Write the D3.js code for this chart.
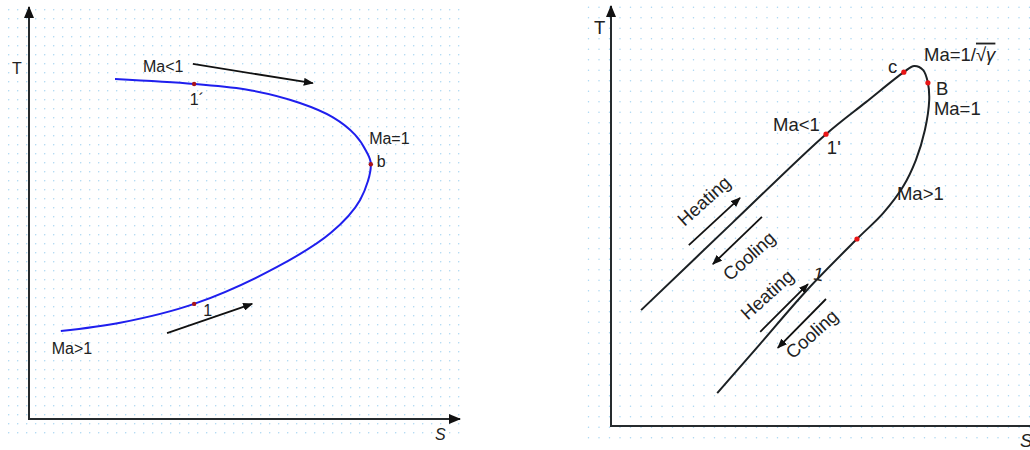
<!DOCTYPE html>
<meta charset="utf-8">
<style>
body { margin: 0; background: #fff; }
svg { display: block; font-family: "Liberation Sans", Arial, sans-serif; }
.axis { stroke: #262b2e; stroke-width: 2; fill: none; }
.grid circle { fill: #a9d6f2; }
</style>
<svg width="1030" height="450"></svg>
<script src="https://cdn.jsdelivr.net/npm/d3@7"></script>
<script>

// ---- Fanno line (left) : entropy s, temperature T in arbitrary units
var fannoS = [0.74, 2.12, 3.84, 5.77, 7.02, 7.70, 7.95, 7.84, 7.58, 7.07, 6.30, 5.14, 3.84, 2.00];
var fannoT = [2.14, 2.34, 2.80, 3.70, 4.53, 5.33, 6.20, 6.52, 6.92, 7.34, 7.69, 8.00, 8.15, 8.27];
var fannoPts = [["1", 3.84, 2.80], ["b", 7.95, 6.20], ["1´", 3.84, 8.15]];

// ---- Rayleigh line (right)
var raylS = [0.70, 2.84, 5.00, 5.93, 6.81, 7.05, 7.26, 7.37, 7.40, 7.30, 7.09, 6.79, 6.33, 5.72, 4.56, 3.47, 2.47];
var raylT = [2.82, 4.96, 7.10, 7.88, 8.61, 8.76, 8.66, 8.35, 7.93, 7.20, 6.47, 5.82, 5.18, 4.55, 3.31, 2.00, 0.80];
var raylPts = [["1'", 5.00, 7.10], ["c", 6.81, 8.61], ["B", 7.37, 8.35], ["1", 5.72, 4.55]];

// labels: text, s, T (baseline start)
var fannoLabels = [["Ma<1", 2.65, 8.45], ["1´", 3.74, 7.64], ["Ma=1", 7.91, 6.69],
                   ["b", 8.09, 6.13], ["1", 4.05, 2.51], ["Ma>1", 0.53, 1.58]];
var raylLabels = [["Ma<1", 3.77, 7.17], ["1'", 5.02, 6.61], ["c", 6.44, 8.59], ["B", 7.56, 8.05],
                  ["Ma=1", 7.51, 7.56], ["Ma>1", 6.65, 5.50]];

// direction arrows: s1, T1, s2, T2
var fannoArrows = [[3.81, 8.64, 6.60, 8.17], [3.21, 2.09, 5.19, 2.80]];
var raylArrows = [[1.81, 4.40, 3.00, 5.55], [3.51, 5.09, 2.37, 3.94],
                  [3.47, 2.29, 4.58, 3.45], [5.00, 3.09, 3.88, 1.90]];
// rotated words: text, s, T (centre)
var raylWords = [["Heating", 2.16, 5.48], ["Cooling", 3.21, 4.14],
                 ["Heating", 3.63, 3.20], ["Cooling", 4.67, 2.24]];

var svg = d3.select("svg");
var defs = svg.append("defs");
defs.append("marker").attr("id", "head")
    .attr("viewBox", "0 0 10 8").attr("refX", 9).attr("refY", 4)
    .attr("markerWidth", 10).attr("markerHeight", 8)
    .attr("markerUnits", "userSpaceOnUse").attr("orient", "auto")
  .append("path").attr("d", "M0,0L10,4L0,8Z").attr("fill", "#111");
defs.append("marker").attr("id", "axhead")
    .attr("viewBox", "0 0 12 10").attr("refX", 11).attr("refY", 5)
    .attr("markerWidth", 12).attr("markerHeight", 10)
    .attr("markerUnits", "userSpaceOnUse").attr("orient", "auto")
  .append("path").attr("d", "M0,0L12,5L0,10Z").attr("fill", "#111");

// dotted background grids
function grid(x0, x1, y0, y1, step) {
  var g = svg.append("g").attr("class", "grid");
  d3.range(x0, x1, step).forEach(function(x) {
    d3.range(y0, y1, step).forEach(function(y) {
      g.append("circle").attr("cx", x).attr("cy", y).attr("r", 0.75);
    });
  });
}
grid(8.7, 459, 9.7, 440, 9);
grid(588.5, 1031, 7.3, 440, 10.5);

function panel(cfg) {
  var x = d3.scaleLinear().domain([0, 10]).range(cfg.xr);
  var y = d3.scaleLinear().domain([0, 10]).range(cfg.yr);
  var g = svg.append("g");
  var ox = x(0), oy = y(0);

  g.append("line").attr("class", "axis")
      .attr("x1", ox).attr("y1", oy + 1).attr("x2", ox).attr("y2", cfg.ytip)
      .attr("marker-end", "url(#axhead)");
  g.append("line").attr("class", "axis")
      .attr("x1", ox - 1).attr("y1", oy).attr("x2", cfg.xtip).attr("y2", oy)
      .attr("marker-end", "url(#axhead)");

  g.append("text").attr("x", ox - 17).attr("y", cfg.tY).text("T")
      .attr("font-size", cfg.fs).attr("fill", "#222");
  g.append("text").attr("x", cfg.sX).attr("y", oy + 21).text("S")
      .attr("font-size", cfg.fs).attr("font-style", "italic").attr("fill", "#222");

  var pts = d3.zip(cfg.s, cfg.t);
  g.append("path").datum(pts)
      .attr("fill", "none").attr("stroke", cfg.color).attr("stroke-width", 2)
      .attr("d", d3.line().x(function(d) { return x(d[0]); })
                          .y(function(d) { return y(d[1]); })
                          .curve(d3.curveCatmullRom.alpha(0.5)));

  g.selectAll(".arr").data(cfg.arrows).enter().append("line")
      .attr("x1", function(d) { return x(d[0]); }).attr("y1", function(d) { return y(d[1]); })
      .attr("x2", function(d) { return x(d[2]); }).attr("y2", function(d) { return y(d[3]); })
      .attr("stroke", "#111").attr("stroke-width", 1.8)
      .attr("marker-end", "url(#head)");

  g.selectAll(".pt").data(cfg.pts).enter().append("circle")
      .attr("cx", function(d) { return x(d[1]); }).attr("cy", function(d) { return y(d[2]); })
      .attr("r", cfg.dotR).attr("fill", cfg.dot);

  g.selectAll(".lbl").data(cfg.labels).enter().append("text")
      .attr("x", function(d) { return x(d[1]); }).attr("y", function(d) { return y(d[2]); })
      .attr("font-size", cfg.fs).attr("fill", "#222")
      .text(function(d) { return d[0]; });
  return {g: g, x: x, y: y};
}

panel({xr: [29, 459], yr: [419, 8], ytip: 7, xtip: 460, tY: 74, sX: 435, fs: 16,
       s: fannoS, t: fannoT, color: "#1f1fee", pts: fannoPts, dot: "#a8141a", dotR: 2.2,
       labels: fannoLabels, arrows: fannoArrows});

var R = panel({xr: [611, 1041], yr: [426, 15], ytip: 6, xtip: 1045, tY: 34, sX: 1020, fs: 18.5,
       s: raylS, t: raylT, color: "#1c2124", pts: raylPts, dot: "#e81515", dotR: 2.6,
       labels: raylLabels, arrows: raylArrows});

// Ma = 1/sqrt(gamma) label at the top of the Rayleigh curve
var topLabel = R.g.append("text").attr("x", R.x(7.28)).attr("y", R.y(8.89))
    .attr("font-size", 18.5).attr("fill", "#222");
topLabel.append("tspan").text("Ma=1/");
topLabel.append("tspan").text("√γ").attr("font-style", "italic")
    .style("text-decoration", "overline");

R.g.selectAll(".word").data(raylWords).enter().append("text")
    .attr("transform", function(d) {
      return "translate(" + R.x(d[1]) + "," + R.y(d[2]) + ") rotate(-42)";
    })
    .attr("text-anchor", "middle").attr("dy", "0.35em")
    .attr("font-size", 18.5).attr("fill", "#222")
    .text(function(d) { return d[0]; });

// the "1" beside the lower heating arrow
R.g.append("text")
    .attr("transform", "translate(" + R.x(4.68) + "," + R.y(3.57) + ") rotate(12)")
    .attr("font-size", 18.5).attr("fill", "#222").text("1");

</script>
